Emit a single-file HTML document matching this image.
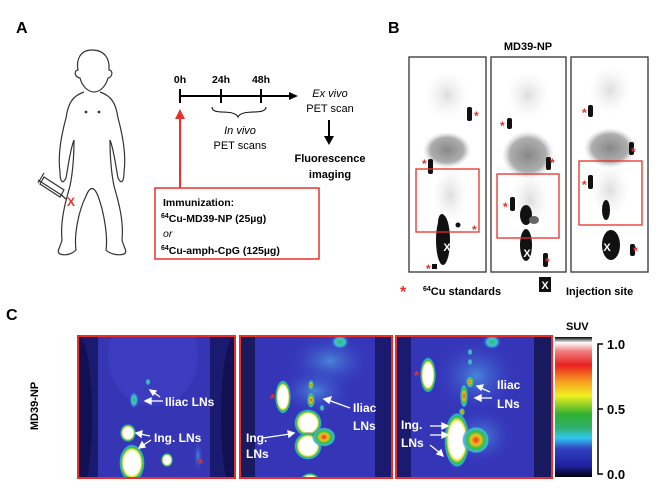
<!DOCTYPE html>
<html><head><meta charset="utf-8"><style>
html,body{margin:0;padding:0;background:#fff;}
svg{display:block;font-family:"Liberation Sans",Arial,sans-serif;}
</style></head><body>
<svg width="664" height="491" viewBox="0 0 664 491" xmlns="http://www.w3.org/2000/svg">
<defs>
<radialGradient id="hot" cx="50%" cy="50%" r="50%">
<stop offset="0" stop-color="#fff"/><stop offset="0.62" stop-color="#fff"/>
<stop offset="0.72" stop-color="#f6e05a"/><stop offset="0.82" stop-color="#30c040"/>
<stop offset="0.92" stop-color="#30b0e0"/><stop offset="1" stop-color="#3030c0" stop-opacity="0"/>
</radialGradient>
<radialGradient id="warm" cx="50%" cy="50%" r="50%">
<stop offset="0" stop-color="#e83020"/><stop offset="0.35" stop-color="#f8c020"/>
<stop offset="0.6" stop-color="#30c040"/><stop offset="0.85" stop-color="#40b8e0"/>
<stop offset="1" stop-color="#3030c0" stop-opacity="0"/>
</radialGradient>
<radialGradient id="cool" cx="50%" cy="50%" r="50%">
<stop offset="0" stop-color="#30c050"/><stop offset="0.5" stop-color="#40c0e0"/>
<stop offset="1" stop-color="#3030c0" stop-opacity="0"/>
</radialGradient>
<radialGradient id="haze" cx="50%" cy="50%" r="50%">
<stop offset="0" stop-color="#50a8e8" stop-opacity="0.7"/><stop offset="1" stop-color="#3535c0" stop-opacity="0"/>
</radialGradient>
<radialGradient id="gray" cx="50%" cy="50%" r="50%">
<stop offset="0" stop-color="#888"/><stop offset="0.7" stop-color="#999" stop-opacity="0.8"/><stop offset="1" stop-color="#ccc" stop-opacity="0"/>
</radialGradient>
<radialGradient id="lg" cx="50%" cy="50%" r="50%">
<stop offset="0" stop-color="#ddd"/><stop offset="1" stop-color="#f4f4f4" stop-opacity="0"/>
</radialGradient>
<linearGradient id="cbar" x1="0" y1="0" x2="0" y2="1">
<stop offset="0" stop-color="#000"/><stop offset="0.04" stop-color="#fff"/>
<stop offset="0.1" stop-color="#f08080"/><stop offset="0.2" stop-color="#e82020"/>
<stop offset="0.32" stop-color="#f8a020"/><stop offset="0.42" stop-color="#f0f020"/>
<stop offset="0.55" stop-color="#30b030"/><stop offset="0.65" stop-color="#30b070"/>
<stop offset="0.72" stop-color="#30c8f0"/><stop offset="0.8" stop-color="#3040c0"/>
<stop offset="0.92" stop-color="#2020a0"/><stop offset="1" stop-color="#000010"/>
</linearGradient>
</defs>

<!-- Panel A -->
<text x="16" y="33" font-size="16" font-weight="bold">A</text>
<g fill="none" stroke="#333" stroke-width="1.2">
<path d="M92 50 C80 50 76 60 78 70 C74 70 74 77 80 78 C82 86 88 92 94 92 C100 92 106 86 108 78 C113 77 113 70 109 70 C110 58 104 50 92 50 Z"/>
<path d="M84 92 C72 96 68 104 66 118 C60 140 58 158 60 172 C60 180 62 186 66 178 C68 168 70 150 74 140 C74 160 72 176 70 186 C66 200 60 220 62 240 C60 248 56 252 60 254 C66 256 72 254 76 250 C74 236 78 212 86 196 C90 186 94 186 98 196 C104 212 108 236 106 250 C110 254 118 256 124 254 C128 252 124 248 122 240 C124 220 118 200 114 186 C112 176 110 160 110 140 C114 150 116 168 118 178 C122 186 124 180 124 172 C126 158 124 140 118 118 C116 104 112 96 100 92"/>
<circle cx="86" cy="112" r="0.8" fill="#333"/><circle cx="99" cy="112" r="0.8" fill="#333"/>
</g>
<g stroke="#333" stroke-width="1.2" fill="none">
<path d="M38 180 L63 196 M44 173 L38 183 M40 184 L60 197 L64 190 L44 177 Z M60 194 L66 199"/>
</g>
<text x="67" y="206" font-size="12" font-weight="bold" fill="#e8302a">X</text>

<g stroke="#000" stroke-width="2">
<line x1="180" y1="96" x2="292" y2="96"/>
<line x1="180" y1="89" x2="180" y2="103"/><line x1="221" y1="89" x2="221" y2="103"/><line x1="261" y1="89" x2="261" y2="103"/>
</g>
<polygon points="298,96 289,92 289,100" fill="#000"/>
<g font-size="10.5" font-weight="bold" text-anchor="middle">
<text x="180" y="83">0h</text><text x="221" y="83">24h</text><text x="261" y="83">48h</text>
</g>
<path d="M212 107 Q212 112 222 112 Q236 112 238 117 Q240 112 254 112 Q266 112 266 107" fill="none" stroke="#000" stroke-width="1"/>
<text x="240" y="134" font-size="11" text-anchor="middle" font-style="italic">In vivo</text>
<text x="240" y="149" font-size="11" text-anchor="middle">PET scans</text>
<text x="330" y="97" font-size="11" text-anchor="middle" font-style="italic">Ex vivo</text>
<text x="330" y="112" font-size="11" text-anchor="middle">PET scan</text>
<line x1="329" y1="120" x2="329" y2="138" stroke="#000" stroke-width="2"/>
<polygon points="329,145 324,136 334,136" fill="#000"/>
<text x="330" y="162" font-size="11" font-weight="bold" text-anchor="middle">Fluorescence</text>
<text x="330" y="178" font-size="11" font-weight="bold" text-anchor="middle">imaging</text>
<line x1="180" y1="188" x2="180" y2="118" stroke="#e8302a" stroke-width="2"/>
<polygon points="180,109 175,119 185,119" fill="#e8302a"/>
<rect x="155" y="188" width="164" height="71" fill="none" stroke="#e8302a" stroke-width="1.5"/>
<g font-size="10.5" font-weight="bold">
<text x="163" y="206">Immunization:</text>
<text x="161" y="222"><tspan font-size="7" dy="-4">64</tspan><tspan dy="4">Cu-MD39-NP (25µg)</tspan></text>
<text x="163" y="237" font-weight="normal" font-style="italic">or</text>
<text x="161" y="254"><tspan font-size="7" dy="-4">64</tspan><tspan dy="4">Cu-amph-CpG (125µg)</tspan></text>
</g>

<!-- Panel B -->
<text x="388" y="33" font-size="16" font-weight="bold">B</text>
<text x="528" y="50" font-size="11" font-weight="bold" text-anchor="middle">MD39-NP</text>
<g>
<ellipse cx="447" cy="95" rx="22" ry="25" fill="url(#lg)"/>
<ellipse cx="447" cy="150" rx="24" ry="18" fill="url(#gray)"/>
<ellipse cx="450" cy="195" rx="18" ry="30" fill="url(#lg)"/>
<ellipse cx="443" cy="240" rx="7" ry="25" fill="#111"/>
<ellipse cx="442" cy="222" rx="4" ry="8" fill="#111"/>
<rect x="467" y="107" width="5" height="14" rx="2" fill="#111"/>
<rect x="428" y="159" width="5" height="15" rx="2" fill="#111"/>
<circle cx="458" cy="225" r="2.5" fill="#111"/>
<rect x="432" y="264" width="5" height="5" fill="#111"/>
<rect x="409" y="57" width="77" height="215" fill="none" stroke="#333" stroke-width="1.3"/>
<rect x="416" y="169" width="63" height="63" fill="none" stroke="#e8302a" stroke-width="1.3"/>
<ellipse cx="528" cy="95" rx="22" ry="25" fill="url(#lg)"/>
<ellipse cx="528" cy="155" rx="26" ry="24" fill="url(#gray)"/>
<ellipse cx="530" cy="200" rx="20" ry="30" fill="url(#lg)"/>
<ellipse cx="526" cy="215" rx="6" ry="10" fill="#111"/>
<ellipse cx="526" cy="245" rx="6" ry="16" fill="#111"/>
<ellipse cx="534" cy="220" rx="5" ry="4" fill="#666"/>
<rect x="507" y="118" width="5" height="11" rx="2" fill="#111"/>
<rect x="546" y="157" width="5" height="13" rx="2" fill="#111"/>
<rect x="510" y="197" width="5" height="14" rx="2" fill="#111"/>
<rect x="543" y="253" width="5" height="14" rx="2" fill="#111"/>
<rect x="491" y="57" width="75" height="215" fill="none" stroke="#333" stroke-width="1.3"/>
<rect x="497" y="174" width="62" height="64" fill="none" stroke="#e8302a" stroke-width="1.3"/>
<ellipse cx="610" cy="90" rx="22" ry="25" fill="url(#lg)"/>
<ellipse cx="610" cy="148" rx="26" ry="20" fill="url(#gray)"/>
<ellipse cx="610" cy="190" rx="20" ry="28" fill="url(#lg)"/>
<ellipse cx="606" cy="210" rx="4" ry="10" fill="#111"/>
<ellipse cx="611" cy="245" rx="9" ry="15" fill="#111"/>
<rect x="588" y="105" width="5" height="12" rx="2" fill="#111"/>
<rect x="629" y="142" width="5" height="13" rx="2" fill="#111"/>
<rect x="588" y="175" width="5" height="14" rx="2" fill="#111"/>
<rect x="630" y="244" width="5" height="12" rx="2" fill="#111"/>
<rect x="571" y="57" width="77" height="215" fill="none" stroke="#333" stroke-width="1.3"/>
<rect x="579" y="161" width="63" height="64" fill="none" stroke="#e8302a" stroke-width="1.3"/>
</g>
<g fill="#fff" font-size="11" font-weight="bold" text-anchor="middle">
<text x="447" y="251">X</text><text x="527" y="257">X</text><text x="607" y="251">X</text>
</g>
<g fill="#e8302a" font-size="12" font-weight="bold">
<text x="474" y="120">*</text><text x="422" y="168">*</text><text x="472" y="234">*</text><text x="426" y="273">*</text>
<text x="500" y="130">*</text><text x="550" y="167">*</text><text x="503" y="211">*</text><text x="545" y="266">*</text>
<text x="582" y="117">*</text><text x="631" y="156">*</text><text x="582" y="189">*</text><text x="633" y="255">*</text>
</g>
<text x="400" y="297" font-size="16" font-weight="bold" fill="#e8302a">*</text>
<text x="423" y="295" font-size="11" font-weight="bold"><tspan font-size="7" dy="-4">64</tspan><tspan dy="4">Cu standards</tspan></text>
<rect x="539" y="277" width="12" height="15" fill="#111"/>
<text x="545" y="289" font-size="11" font-weight="bold" fill="#fff" text-anchor="middle">X</text>
<text x="566" y="295" font-size="11" font-weight="bold">Injection site</text>

<!-- Panel C -->
<text x="6" y="320" font-size="16" font-weight="bold">C</text>
<text transform="translate(38,406) rotate(-90)" font-size="11" font-weight="bold" text-anchor="middle">MD39-NP</text>

<!-- C1 -->
<svg x="78" y="336" width="157" height="142">
<rect width="157" height="142" fill="#3636b4"/>
<rect x="0" y="0" width="20" height="142" fill="#1a1a70"/>
<rect x="132" y="0" width="25" height="142" fill="#1a1a70"/>
<ellipse cx="0" cy="80" rx="14" ry="80" fill="#0a0a40" opacity="0.6"/>
<ellipse cx="157" cy="80" rx="14" ry="80" fill="#0a0a40" opacity="0.6"/>
<ellipse cx="75" cy="20" rx="45" ry="50" fill="#3c3cc0"/>
<ellipse cx="70" cy="46" rx="3" ry="4" fill="url(#cool)"/>
<ellipse cx="56" cy="64" rx="5" ry="9" fill="url(#cool)"/>
<ellipse cx="50" cy="97" rx="8" ry="9" fill="url(#hot)"/>
<ellipse cx="54" cy="127" rx="13" ry="19" fill="url(#hot)"/>
<ellipse cx="89" cy="124" rx="6" ry="7" fill="url(#hot)"/>
<ellipse cx="120" cy="120" rx="5" ry="16" fill="url(#haze)"/>
</svg>
<rect x="78" y="336" width="157" height="142" fill="none" stroke="#e8302a" stroke-width="2"/>
<!-- C2 -->
<svg x="240" y="336" width="152" height="142">
<rect width="152" height="142" fill="#3535b8"/>
<rect x="0" y="0" width="15" height="142" fill="#1a1a60"/>
<rect x="135" y="0" width="17" height="142" fill="#1a1a70"/>
<ellipse cx="90" cy="25" rx="45" ry="30" fill="url(#haze)"/>
<ellipse cx="75" cy="55" rx="40" ry="25" fill="url(#haze)"/>
<ellipse cx="100" cy="6" rx="10" ry="8" fill="url(#cool)"/>
<ellipse cx="43" cy="61" rx="8" ry="17" fill="url(#hot)"/>
<ellipse cx="71" cy="49" rx="3" ry="5" fill="url(#warm)"/>
<ellipse cx="71" cy="64" rx="4" ry="8" fill="url(#warm)"/>
<ellipse cx="82" cy="72" rx="3" ry="4" fill="url(#cool)"/>
<ellipse cx="68" cy="87" rx="14" ry="14" fill="url(#hot)"/>
<ellipse cx="68" cy="110" rx="14" ry="14" fill="url(#hot)"/>
<ellipse cx="84" cy="101" rx="12" ry="10" fill="url(#warm)"/>
<ellipse cx="70" cy="145" rx="10" ry="8" fill="url(#hot)"/>
</svg>
<rect x="240" y="336" width="152" height="142" fill="none" stroke="#e8302a" stroke-width="2"/>
<!-- C3 -->
<svg x="396" y="336" width="156" height="142">
<rect width="156" height="142" fill="#3535b8"/>
<rect x="0" y="0" width="15" height="142" fill="#1a1a70"/>
<rect x="138" y="0" width="18" height="142" fill="#1a1a60"/>
<ellipse cx="80" cy="40" rx="45" ry="40" fill="url(#haze)"/>
<ellipse cx="85" cy="100" rx="35" ry="30" fill="url(#haze)"/>
<ellipse cx="96" cy="6" rx="10" ry="8" fill="url(#cool)"/>
<ellipse cx="74" cy="16" rx="3" ry="4" fill="url(#cool)"/>
<ellipse cx="74" cy="26" rx="3" ry="4" fill="url(#cool)"/>
<ellipse cx="32" cy="39" rx="8" ry="18" fill="url(#hot)"/>
<ellipse cx="74" cy="46" rx="4" ry="6" fill="url(#warm)"/>
<ellipse cx="68" cy="60" rx="4" ry="12" fill="url(#warm)"/>
<ellipse cx="66" cy="76" rx="3" ry="4" fill="url(#warm)"/>
<ellipse cx="61" cy="104" rx="13" ry="28" fill="url(#hot)"/>
<ellipse cx="80" cy="104" rx="14" ry="14" fill="url(#warm)"/>
</svg>
<rect x="396" y="336" width="156" height="142" fill="none" stroke="#e8302a" stroke-width="2"/>

<!-- C labels -->
<g fill="#fff" font-size="12" font-weight="bold">
<text x="165" y="406">Iliac LNs</text>
<text x="154" y="442">Ing. LNs</text>
<text x="353" y="412">Iliac</text><text x="353" y="430">LNs</text>
<text x="246" y="442">Ing.</text><text x="246" y="458">LNs</text>
<text x="497" y="389">Iliac</text><text x="497" y="408">LNs</text>
<text x="401" y="429">Ing.</text><text x="401" y="447">LNs</text>
</g>
<g stroke="#fff" stroke-width="1.3" fill="#fff">
<line x1="163" y1="401" x2="149" y2="401"/><polygon points="145,401 151,398 151,404"/>
<line x1="160" y1="397" x2="153" y2="392"/><polygon points="150,390 156,391 153,395"/>
<line x1="150" y1="436" x2="140" y2="434"/><polygon points="136,433 142,431 141,437"/>
<line x1="151" y1="440" x2="142" y2="446"/><polygon points="139,448 142,442 145,447"/>
<line x1="350" y1="408" x2="328" y2="400"/><polygon points="324,399 331,397 329,403"/>
<line x1="263" y1="438" x2="290" y2="434"/><polygon points="294,433 288,431 289,437"/>
<line x1="490" y1="392" x2="481" y2="388"/><polygon points="477,386 483,385 481,390"/>
<line x1="492" y1="398" x2="479" y2="398"/><polygon points="475,398 481,395 481,401"/>
<line x1="430" y1="426" x2="444" y2="426"/><polygon points="448,426 442,423 442,429"/>
<line x1="430" y1="435" x2="444" y2="435"/><polygon points="448,435 442,432 442,438"/>
<line x1="430" y1="445" x2="440" y2="453"/><polygon points="443,456 437,454 441,450"/>
</g>
<g fill="#e8302a" font-size="13" font-weight="bold">
<text x="198" y="468">*</text><text x="270" y="403">*</text><text x="414" y="380">*</text>
</g>

<!-- Colorbar -->
<text x="566" y="330" font-size="11" font-weight="bold">SUV</text>
<rect x="555" y="337" width="37" height="140" fill="url(#cbar)"/>
<path d="M603 344 L598 344 L598 474 L603 474 M598 409 L603 409" fill="none" stroke="#000" stroke-width="1.5"/>
<g font-size="13" font-weight="bold">
<text x="607" y="349">1.0</text><text x="607" y="414">0.5</text><text x="607" y="479">0.0</text>
</g>
</svg>
</body></html>
